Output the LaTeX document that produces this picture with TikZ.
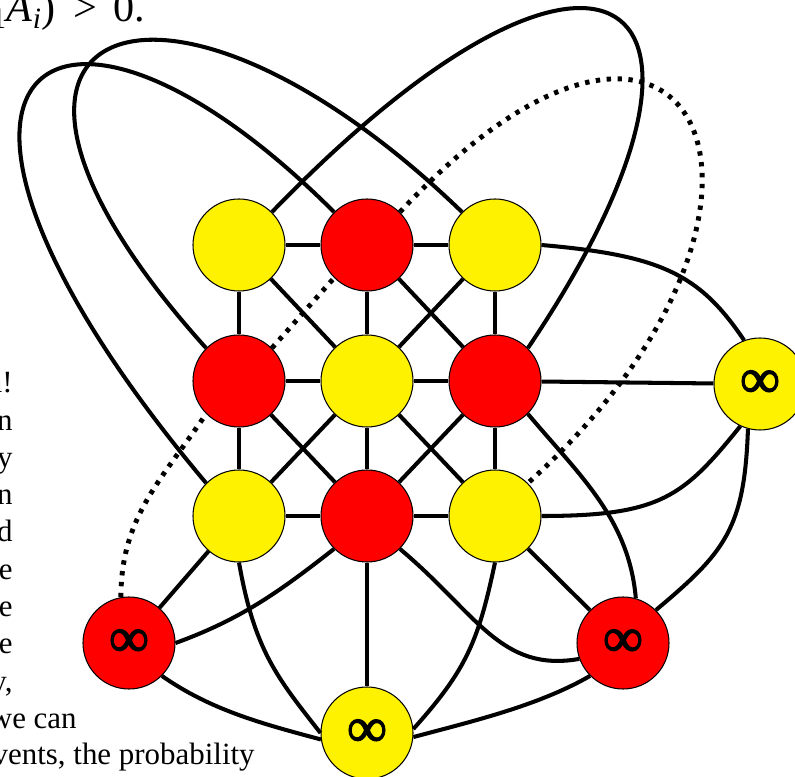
\documentclass[tikz,border=0pt]{standalone}
\usepackage{fontspec}
\setmainfont{Liberation Serif}
\newfontfamily\inffont[FakeBold=2.2]{Liberation Serif}
\tikzstyle{rednode} = [circle, minimum size=1.84cm, inner sep=0pt,
    draw=black, line width=0.6pt, fill=red]
\tikzstyle{yellownode} = [circle, minimum size=1.84cm, inner sep=0pt,
    draw=black, line width=0.6pt, fill=yellow]
\tikzstyle{inf} = [font=\inffont\fontsize{32}{32}\selectfont]
\tikzstyle{edge} = [line width=2.3pt]
\tikzstyle{dotedge} = [line width=2.8pt, dash pattern=on 2.5pt off 3.7pt]
\tikzstyle{slide} = [font=\fontsize{17.6}{21}\selectfont, inner sep=0pt]

\begin{document}
\begin{tikzpicture}
\useasboundingbox (0,0) rectangle (15.9,-15.54);
% --- rejilla 3x3 ---
\node (topleft) [yellownode] at (4.78,-4.90) {};
\node (topmid) [rednode] at (7.34,-4.90) {};
\node (topright) [yellownode] at (9.90,-4.90) {};
\node (midleft) [rednode] at (4.78,-7.62) {};
\node (center) [yellownode] at (7.34,-7.62) {};
\node (midright) [rednode] at (9.90,-7.62) {};
\node (botleft) [yellownode] at (4.78,-10.32) {};
\node (botmid) [rednode] at (7.34,-10.32) {};
\node (botright) [yellownode] at (9.90,-10.32) {};

% --- nodos exteriores (infinito) ---
\node (infsw) [rednode, inf] at (2.58,-12.86) {∞};
\node (infs) [yellownode, inf] at (7.34,-14.66) {∞};
\node (infse) [rednode, inf] at (12.46,-12.86) {∞};
\node (infe) [yellownode, inf] at (15.20,-7.68) {∞};

% --- texto de la diapositiva (recortado) ---
\node (formula) [slide, font=\fontsize{24}{26}\selectfont, anchor=base west] at (-0.18,-0.44)
    {\textsubscript{1}\textit{A}\textsubscript{\textit{i}})\hspace{0.42em}>\hspace{0.37em}0.};
\node (line1) [slide, anchor=base east] at (0.26,-7.86) {n!};
\node (line2) [slide, anchor=base east] at (0.26,-8.61) {n};
\node (line3) [slide, anchor=base east] at (0.26,-9.35) {y};
\node (line4) [slide, anchor=base east] at (0.26,-10.10) {n};
\node (line5) [slide, anchor=base east] at (0.26,-10.84) {d};
\node (line6) [slide, anchor=base east] at (0.26,-11.59) {e};
\node (line7) [slide, anchor=base east] at (0.26,-12.34) {e};
\node (line8) [slide, anchor=base east] at (0.26,-13.08) {e};
\node (line9) [slide, anchor=base east] at (0.26,-13.83) {y,};
\node (line10) [slide, anchor=base east] at (1.54,-14.57) {we can};
\node (line11) [slide, anchor=base east] at (5.10,-15.30) {vents, the probability};

% --- aristas de la rejilla ---
\draw[edge] (topleft) -- (topmid);
\draw[edge] (topmid) -- (topright);
\draw[edge] (midleft) -- (center);
\draw[edge] (center) -- (midright);
\draw[edge] (botleft) -- (botmid);
\draw[edge] (botmid) -- (botright);
\draw[edge] (topleft) -- (midleft);
\draw[edge] (midleft) -- (botleft);
\draw[edge] (topmid) -- (center);
\draw[edge] (center) -- (botmid);
\draw[edge] (topright) -- (midright);
\draw[edge] (midright) -- (botright);
\draw[edge] (topleft) -- (center);
\draw[edge] (topmid) -- (midright);
\draw[edge] (topright) -- (center);
\draw[edge] (midleft) -- (botmid);
\draw[edge] (center) -- (botleft);
\draw[edge] (center) -- (botright);
\draw[edge] (midright) -- (botmid);

% --- lazos grandes ---
\draw[edge] (botleft.north west) .. controls +(130:10.8) and +(135:8) .. (topmid.north west);
\draw[edge] (midleft.north west) .. controls +(132:8.8) and +(136:8.4) .. (topright.north west);
\draw[edge] (topleft.north east) .. controls +(46:9.6) and +(56:8.6) .. (midright.north east);

% --- camino punteado ---
\draw[dotedge] (infsw.100) .. controls +(90:1.6) and +(236:1.6) .. (midleft.south west);
\draw[dotedge] (midleft.north east) -- (topmid.south west);
\draw[dotedge] (topmid.north east) .. controls +(47:8.6) and +(42:8.4) .. (botright.north east);

% --- ramal derecho ---
\draw[edge] (topright.east) .. controls +(-5:2.4) and +(124:1.6) .. (infe.110);
\draw[edge] (midright) -- (infe);
\draw[edge] (botright.east) .. controls +(0:2.4) and +(231:1.8) .. (infe.245);
\draw[edge] (infe.255) .. controls +(-92:2) and +(40:1.8) .. (infse.north east);
\draw[edge] (midright.south east) .. controls +(-50:1.6) and +(95:1.6) .. (infse.74);
\draw[edge] (botright) -- (infse);
\draw[edge] (botmid.south east) .. controls +(-40:2) and +(190:1.6) .. (infse.200);

% --- ramal inferior ---
\draw[edge] (botmid) -- (infs);
\draw[edge] (botright.south) .. controls +(-102:1.6) and +(48:1.6) .. (infs.5);
\draw[edge] (infse.south west) .. controls +(210:1.2) and +(15:1.2) .. (infs.-5);
\draw[edge] (botleft.south) .. controls +(-80:1.8) and +(128:1.4) .. (infs.west);
\draw[edge] (infsw.south east) .. controls +(-35:1.2) and +(165:1.2) .. (infs.188);
\draw[edge] (infsw.east) .. controls +(20:1.4) and +(218:1.4) .. (botmid.south west);
\draw[edge] (infsw) -- (botleft);
\end{tikzpicture}
\end{document}
